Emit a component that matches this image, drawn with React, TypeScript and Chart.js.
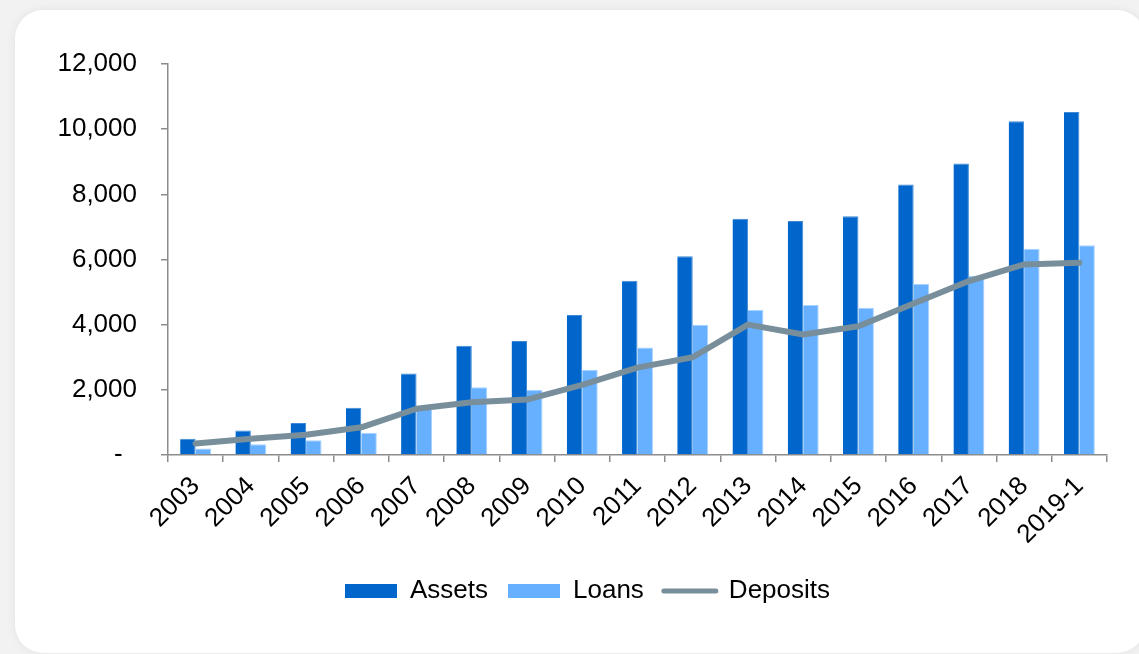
import React, { useEffect, useRef } from "react";
import { Chart, registerables } from "chart.js";

Chart.register(...registerables);

const categories = ["2003", "2004", "2005", "2006", "2007", "2008", "2009", "2010", "2011", "2012", "2013", "2014", "2015", "2016", "2017", "2018", "2019-1"];
const assets = [500, 750, 980, 1450, 2500, 3350, 3500, 4300, 5350, 6100, 7250, 7180, 7330, 8300, 8950, 10240, 10530];
const loans = [200, 330, 450, 680, 1450, 2080, 2000, 2620, 3300, 4000, 4450, 4600, 4520, 5250, 5500, 6330, 6440];
const deposits = [350, 500, 620, 850, 1420, 1620, 1700, 2150, 2680, 3000, 4000, 3700, 3950, 4650, 5340, 5850, 5900];
const yTicks = [0, 2000, 4000, 6000, 8000, 10000, 12000];

const ASSETS_COLOR = "#0066CC";
const LOANS_COLOR = "#66B0FF";
const DEPOSITS_COLOR = "#788F9B";
const AXIS_COLOR = "#8C8C8C";
const FONT = "'Liberation Sans', Arial, sans-serif";
const FONT_SIZE = 26;

const legendShift = {
  id: "legendShift",
  afterLayout(chart: any) {
    const lg = chart.legend;
    if (!lg) return;
    const dx = 587.5 - (lg.left + lg.right) / 2;
    lg.left += dx;
    lg.right += dx;
  },
};

export default function App() {
  const ref = useRef<HTMLCanvasElement | null>(null);

  useEffect(() => {
    if (!ref.current) return;
    const chart = new Chart(ref.current, {
      type: "bar",
      plugins: [legendShift],
      data: {
        labels: categories,
        datasets: [
          {
            type: "line",
            label: "Deposits",
            data: deposits,
            borderColor: DEPOSITS_COLOR,
            backgroundColor: DEPOSITS_COLOR,
            borderWidth: 6,
            borderCapStyle: "round",
            borderJoinStyle: "round",
            pointRadius: 0,
            tension: 0,
            fill: false,
            order: 0,
          } as any,
          {
            label: "Assets",
            data: assets,
            backgroundColor: ASSETS_COLOR,
            borderColor: "#3f8ad6",
            borderWidth: { top: 1, right: 1, left: 0, bottom: 0 },
            categoryPercentage: 0.56,
            barPercentage: 1.0,
            order: 1,
          },
          {
            label: "Loans",
            data: loans,
            backgroundColor: LOANS_COLOR,
            borderColor: "#a9d3ff",
            borderWidth: { top: 1, right: 1, left: 0, bottom: 0 },
            categoryPercentage: 0.56,
            barPercentage: 1.0,
            order: 1,
          },
        ],
      },
      options: {
        animation: false,
        responsive: false,
        maintainAspectRatio: false,
        layout: { padding: { left: 40, right: 32, top: 64, bottom: 40 } },
        plugins: {
          tooltip: { enabled: false },
          legend: {
            position: "bottom",
            labels: {
              font: { family: FONT, size: FONT_SIZE },
              color: "#000",
              usePointStyle: true,
              pointStyleWidth: 52,
              boxHeight: 14,
              padding: 20,
              generateLabels: () => [
                { text: "Assets", fillStyle: ASSETS_COLOR, strokeStyle: ASSETS_COLOR, lineWidth: 0, pointStyle: "rect", datasetIndex: 1, hidden: false, fontColor: "#000" },
                { text: "Loans", fillStyle: LOANS_COLOR, strokeStyle: LOANS_COLOR, lineWidth: 0, pointStyle: "rect", datasetIndex: 2, hidden: false, fontColor: "#000" },
                { text: "Deposits", fillStyle: DEPOSITS_COLOR, strokeStyle: DEPOSITS_COLOR, lineWidth: 5, lineCap: "round", pointStyle: "line", datasetIndex: 0, hidden: false, fontColor: "#000" },
              ] as any,
            },
          },
        },
        scales: {
          x: {
            offset: true,
            grid: { offset: true, drawOnChartArea: false, tickLength: 7, color: AXIS_COLOR, lineWidth: 1.5 },
            border: { color: AXIS_COLOR, width: 1.5 },
            ticks: {
              font: { family: FONT, size: FONT_SIZE },
              color: "#000",
              maxRotation: 45,
              minRotation: 45,
              padding: 9,
              autoSkip: false,
            },
            afterFit: (scale: any) => {
              scale.height = 103;
            },
          },
          y: {
            min: 0,
            max: 12000,
            afterBuildTicks: (scale: any) => {
              scale.ticks = yTicks.map((v) => ({ value: v }));
            },
            grid: { drawOnChartArea: false, tickLength: 7, color: AXIS_COLOR, lineWidth: 1.5 },
            border: { color: AXIS_COLOR, width: 1.5 },
            ticks: {
              font: { family: FONT, size: FONT_SIZE },
              color: "#000",
              padding: 24,
              callback: (v: any) => (Number(v) === 0 ? "-  " : Number(v).toLocaleString("en-US")),
            },
            afterFit: (scale: any) => {
              scale.width = 128;
            },
          },
        },
      },
    });
    return () => chart.destroy();
  }, []);

  return (
    <div style={{ position: "fixed", left: 0, top: 0, width: 1139, height: 654, background: "#f2f2f2", overflow: "hidden" }}>
      <div
        style={{
          position: "absolute",
          left: 15,
          top: 10,
          width: 1130,
          height: 643,
          background: "#fff",
          borderRadius: 28,
          boxShadow: "0 0 10px rgba(0,0,0,0.07)",
        }}
      />
      <canvas ref={ref} width={1139} height={654} style={{ position: "absolute", left: 0, top: 0, width: 1139, height: 654 }} />
    </div>
  );
}
